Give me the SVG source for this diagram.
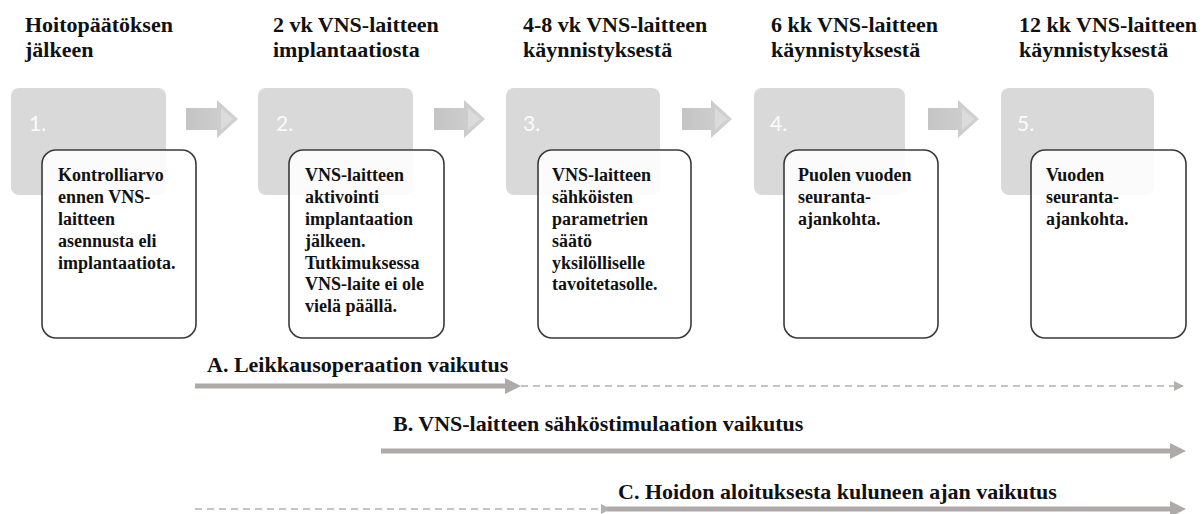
<svg xmlns="http://www.w3.org/2000/svg" width="1204" height="514" viewBox="0 0 1204 514">
<style>
.hd{font-family:'Liberation Serif','DejaVu Serif',serif;font-weight:700;font-size:22px;fill:#111}
.bt{font-family:'Liberation Serif','DejaVu Serif',serif;font-weight:700;font-size:18px;fill:#111}
.num{font-family:Lato,'Open Sans',sans-serif;font-size:21px;fill:#fbfbfb}
.gbox{fill:#d9d9d9}
.wbox{fill:#fff;fill-opacity:0.88;stroke:#3a3a3a;stroke-width:1.6}
.step{fill:url(#stepGrad)}
.hl{fill:#e4e4e4}
.solid{fill:#aeaaaa}
.dash{stroke:#b4b0b0;stroke-width:1.6;stroke-dasharray:7 5;fill:none}
</style>
<defs>
<linearGradient id="stepGrad" x1="0" y1="0" x2="1" y2="0">
<stop offset="0" stop-color="#c4c4c4"/>
<stop offset="1" stop-color="#d2d2d2"/>
</linearGradient>
<marker id="dh" viewBox="0 0 10 10" refX="9" refY="5" markerWidth="10" markerHeight="10" markerUnits="userSpaceOnUse" orient="auto">
<path d="M0,0 L10,5 L0,10 Z" fill="#b4b0b0"/>
</marker>
</defs>

<g id="step1">
<text class="hd" x="25" y="32">Hoitopäätöksen</text>
<text class="hd" x="25" y="57">jälkeen</text>
<rect class="gbox" x="11" y="88" width="155" height="107" rx="8"/>
<text class="num" x="29" y="131">1.</text>
<rect class="wbox" x="42" y="150" width="154" height="188" rx="14"/>
<text class="bt" x="58" y="181">Kontrolliarvo</text>
<text class="bt" x="58" y="203">ennen VNS-</text>
<text class="bt" x="58" y="225">laitteen</text>
<text class="bt" x="58" y="247">asennusta eli</text>
<text class="bt" x="58" y="269">implantaatiota.</text>
</g>

<g id="step2">
<text class="hd" x="273" y="32">2 vk VNS-laitteen</text>
<text class="hd" x="273" y="57">implantaatiosta</text>
<rect class="gbox" x="258" y="88" width="155" height="107" rx="8"/>
<text class="num" x="276" y="131">2.</text>
<rect class="wbox" x="289" y="150" width="155" height="188" rx="14"/>
<text class="bt" x="305" y="181">VNS-laitteen</text>
<text class="bt" x="305" y="203">aktivointi</text>
<text class="bt" x="305" y="225">implantaation</text>
<text class="bt" x="305" y="247">jälkeen.</text>
<text class="bt" x="305" y="269">Tutkimuksessa</text>
<text class="bt" x="305" y="290">VNS-laite ei ole</text>
<text class="bt" x="305" y="312">vielä päällä.</text>
</g>

<g id="step3">
<text class="hd" x="523" y="32">4-8 vk VNS-laitteen</text>
<text class="hd" x="523" y="57">käynnistyksestä</text>
<rect class="gbox" x="506" y="88" width="154" height="107" rx="8"/>
<text class="num" x="523" y="131">3.</text>
<rect class="wbox" x="538" y="150" width="153" height="188" rx="14"/>
<text class="bt" x="552" y="181">VNS-laitteen</text>
<text class="bt" x="552" y="203">sähköisten</text>
<text class="bt" x="552" y="225">parametrien</text>
<text class="bt" x="552" y="247">säätö</text>
<text class="bt" x="552" y="269">yksilölliselle</text>
<text class="bt" x="552" y="290">tavoitetasolle.</text>
</g>

<g id="step4">
<text class="hd" x="771" y="32">6 kk VNS-laitteen</text>
<text class="hd" x="771" y="57">käynnistyksestä</text>
<rect class="gbox" x="754" y="88" width="151" height="107" rx="8"/>
<text class="num" x="770" y="131">4.</text>
<rect class="wbox" x="784" y="150" width="154" height="188" rx="14"/>
<text class="bt" x="798" y="181">Puolen vuoden</text>
<text class="bt" x="798" y="203">seuranta-</text>
<text class="bt" x="798" y="225">ajankohta.</text>
</g>

<g id="step5">
<text class="hd" x="1019" y="32">12 kk VNS-laitteen</text>
<text class="hd" x="1019" y="57">käynnistyksestä</text>
<rect class="gbox" x="1001" y="88" width="153" height="107" rx="8"/>
<text class="num" x="1017" y="131">5.</text>
<rect class="wbox" x="1031" y="150" width="155" height="188" rx="14"/>
<text class="bt" x="1046" y="181">Vuoden</text>
<text class="bt" x="1046" y="203">seuranta-</text>
<text class="bt" x="1046" y="225">ajankohta.</text>
</g>

<g id="connectors">
<g id="step-arrows">
<path class="step" d="M186,108 H217 V100 L238,119 L217,138 V130 H186 Z"/>
<path class="hl" d="M221,108 L233,119 L221,130 Z" opacity="0.6"/>
<path class="step" d="M434,108 H464 V100 L485,119 L464,138 V130 H434 Z"/>
<path class="hl" d="M468,108 L480,119 L468,130 Z" opacity="0.6"/>
<path class="step" d="M682,108 H711 V100 L732,119 L711,138 V130 H682 Z"/>
<path class="hl" d="M715,108 L727,119 L715,130 Z" opacity="0.6"/>
<path class="step" d="M928,108 H958 V100 L979,119 L958,138 V130 H928 Z"/>
<path class="hl" d="M962,108 L974,119 L962,130 Z" opacity="0.6"/>
</g>
<g id="effect-A">
<text class="hd" x="207" y="372">A. Leikkausoperaation vaikutus</text>
<path class="solid" d="M195,383.5 H505 V378 L521,386 L505,394 V388.5 H195 Z"/>
<line class="dash" x1="521" y1="386" x2="1183" y2="386" marker-end="url(#dh)"/>
</g>
<g id="effect-B">
<text class="hd" x="393" y="431">B. VNS-laitteen sähköstimulaation vaikutus</text>
<path class="solid" d="M381,448.5 H1170 V443 L1186,451 L1170,459 V453.5 H381 Z"/>
</g>
<g id="effect-C">
<text class="hd" x="618" y="499">C. Hoidon aloituksesta kuluneen ajan vaikutus</text>
<line class="dash" x1="195" y1="509" x2="610" y2="509" marker-end="url(#dh)"/>
<path class="solid" d="M607,506.5 H1170 V501 L1186,509 L1170,517 V511.5 H607 Z"/>
</g>
</g>
</svg>
